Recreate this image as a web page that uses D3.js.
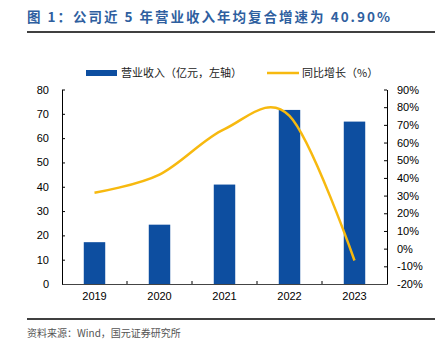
<!DOCTYPE html>
<html>
<head>
<meta charset="utf-8">
<script src="https://cdn.jsdelivr.net/npm/d3@7"></script>
<style>
  body { margin: 0; background: #fff; }
  svg text { font-family: "Liberation Sans", Arial, "Noto Sans CJK SC", sans-serif; }
</style>
</head>
<body>
<div id="chart"></div>
<script>
// data
const years = ['2019', '2020', '2021', '2022', '2023'];
const revenue = [17.2, 24.4, 40.9, 71.6, 66.8];   // 亿元
const growth = [31.6, 41.9, 67.6, 75.1, -6.7];    // %
const leftTicks = [0, 10, 20, 30, 40, 50, 60, 70, 80];
const rightTicks = [-20, -10, 0, 10, 20, 30, 40, 50, 60, 70, 80, 90];

const width = 445, height = 351;
const margin = {top: 89.5, right: 58, bottom: 67, left: 62};
const w = width - margin.left - margin.right,
      h = height - margin.top - margin.bottom;

const svg = d3.select('#chart').append('svg')
    .attr('width', width)
    .attr('height', height);

// title
svg.append('text')
    .attr('x', 27).attr('y', 22)
    .attr('font-size', 13.5).attr('font-weight', 'bold')
    .attr('letter-spacing', 2)
    .attr('fill', '#2f5f9f')
    .style('font-family', '"Noto Sans CJK SC", sans-serif')
    .text('图 1：公司近 5 年营业收入年均复合增速为 40.90%');
svg.append('line')
    .attr('x1', 27).attr('x2', 435).attr('y1', 32).attr('y2', 32)
    .attr('stroke', '#000').attr('stroke-width', 1.5);

const g = svg.append('g').attr('transform', `translate(${margin.left},${margin.top})`);

// scales
const x = d3.scaleBand().domain(years).range([0, w]).paddingInner(0.67).paddingOuter(0.335);
const xb = d3.scaleBand().domain(years).range([0, w]);
const yL = d3.scaleLinear().domain([0, 80]).range([h, 0]);
const yR = d3.scaleLinear().domain([-20, 90]).range([h, 0]);

// bars
g.selectAll('.bar')
    .data(years)
    .enter()
    .append('rect')
    .attr('class', 'bar')
    .attr('x', d => x(d))
    .attr('y', (d, i) => yL(revenue[i]))
    .attr('width', x.bandwidth())
    .attr('height', (d, i) => h - yL(revenue[i]))
    .attr('fill', '#0d4ea0');

// line (smoothed like excel)
const line = d3.line()
    .x((d, i) => xb(years[i]) + xb.bandwidth() / 2)
    .y(d => yR(d))
    .curve(d3.curveCatmullRom.alpha(0));
g.append('path')
    .datum(growth)
    .attr('d', line)
    .attr('fill', 'none')
    .attr('stroke', '#f7b90f')
    .attr('stroke-width', 2.5);

// axes
const yAxisL = g.append('g')
    .call(d3.axisLeft(yL).tickValues(leftTicks).tickSizeInner(-3).tickSizeOuter(0).tickPadding(13));
const yAxisR = g.append('g')
    .attr('transform', `translate(${w},0)`)
    .call(d3.axisRight(yR).tickValues(rightTicks).tickSizeInner(-3).tickSizeOuter(0).tickPadding(10)
        .tickFormat(d => d + '%'));
const xAxis = g.append('g')
    .attr('transform', `translate(0,${h})`)
    .call(d3.axisBottom(xb).tickSize(0).tickPadding(8));

// category boundary ticks
g.selectAll('.sep')
    .data(years.slice(1))
    .enter()
    .append('line')
    .attr('x1', d => xb(d)).attr('x2', d => xb(d))
    .attr('y1', h).attr('y2', h - 3)
    .attr('stroke', '#000');

[yAxisL, yAxisR, xAxis].forEach(a => {
    a.selectAll('text').attr('font-size', 11).attr('fill', '#000')
        .style('font-family', '"Liberation Sans", Arial, sans-serif');
    a.selectAll('path, line').attr('stroke', '#000');
});
xAxis.select('.domain').attr('stroke', '#444');

// legend
const legend = svg.append('g').attr('transform', 'translate(0,73)');
legend.append('rect').attr('x', 86).attr('y', -3).attr('width', 31).attr('height', 6).attr('fill', '#0d4ea0');
legend.append('text').attr('x', 121).attr('y', 4).attr('font-size', 11).attr('fill', '#222')
    .style('font-family', '"Noto Sans CJK SC", sans-serif')
    .text('营业收入（亿元，左轴）');
legend.append('line').attr('x1', 267).attr('x2', 299).attr('y1', 0).attr('y2', 0)
    .attr('stroke', '#f7b90f').attr('stroke-width', 2.5);
legend.append('text').attr('x', 302).attr('y', 4).attr('font-size', 11).attr('fill', '#222')
    .style('font-family', '"Noto Sans CJK SC", sans-serif')
    .text('同比增长（%）');

// footer
svg.append('line')
    .attr('x1', 27).attr('x2', 435).attr('y1', 319).attr('y2', 319)
    .attr('stroke', '#000').attr('stroke-width', 1.5);
svg.append('text')
    .attr('x', 27).attr('y', 337)
    .attr('font-size', 10).attr('fill', '#555')
    .style('font-family', '"Noto Sans CJK SC", sans-serif')
    .text('资料来源：Wind，国元证券研究所');
</script>
</body>
</html>
